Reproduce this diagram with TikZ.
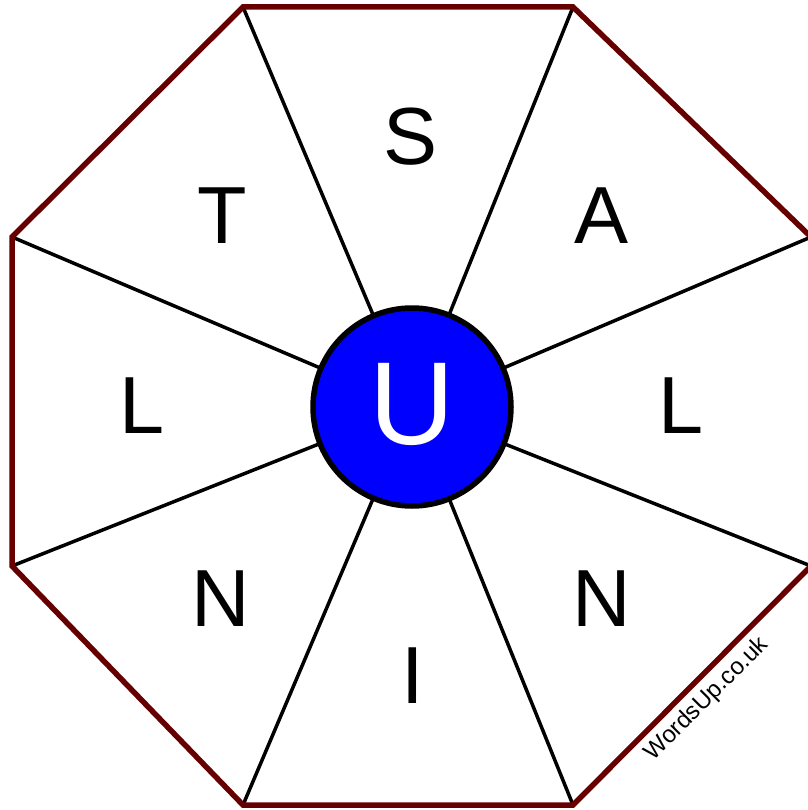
\documentclass[tikz,border=0pt]{standalone}
\usepackage{fontspec}
\setmainfont{Liberation Sans}
\definecolor{rim}{HTML}{660000}
\definecolor{hub}{HTML}{0000FF}
\tikzset{
  rimline/.style={draw=rim, line width=5.5pt, line join=miter},
  spoke/.style={draw=black, line width=3.5pt},
  letter/.style={anchor=base, inner sep=0pt, font=\fontsize{81}{81}\selectfont},
  hubletter/.style={anchor=base, inner sep=0pt, text=white, font=\fontsize{118}{118}\selectfont},
}
\begin{document}
\begin{tikzpicture}[x=1pt,y=-1pt]
\useasboundingbox (0,0) rectangle (807,810);
\coordinate (c) at (412,407);
\coordinate (v1) at (243,7);
\coordinate (v2) at (573,7);
\coordinate (v3) at (811,237);
\coordinate (v4) at (811,566);
\coordinate (v5) at (573,805);
\coordinate (v6) at (243,805);
\coordinate (v7) at (12,566);
\coordinate (v8) at (12,237);
\foreach \i in {1,...,8} \draw[spoke] (c) -- (v\i);
\draw[rimline] (v1) -- (v2) -- (v3) -- (v4) -- (v5) -- (v6) -- (v7) -- (v8) -- cycle;
\draw[fill=hub, draw=black, line width=5.5pt] (c) circle (99);
\node[hubletter] (u) at (412.5,444) {U};
\node[letter] (s) at (411,165) {S};
\node[letter] (a) at (602,243) {A};
\node[letter] (l1) at (681,433) {L};
\node[letter] (n1) at (602,626) {N};
\node[letter] (i) at (413,703) {I};
\node[letter] (n2) at (221,626) {N};
\node[letter] (l2) at (142,433) {L};
\node[letter] (t) at (222,243) {T};
\node[rotate=45, inner sep=0pt, font=\fontsize{24}{24}\selectfont] (w) at (707,699) {WordsUp.co.uk};
\end{tikzpicture}
\end{document}
